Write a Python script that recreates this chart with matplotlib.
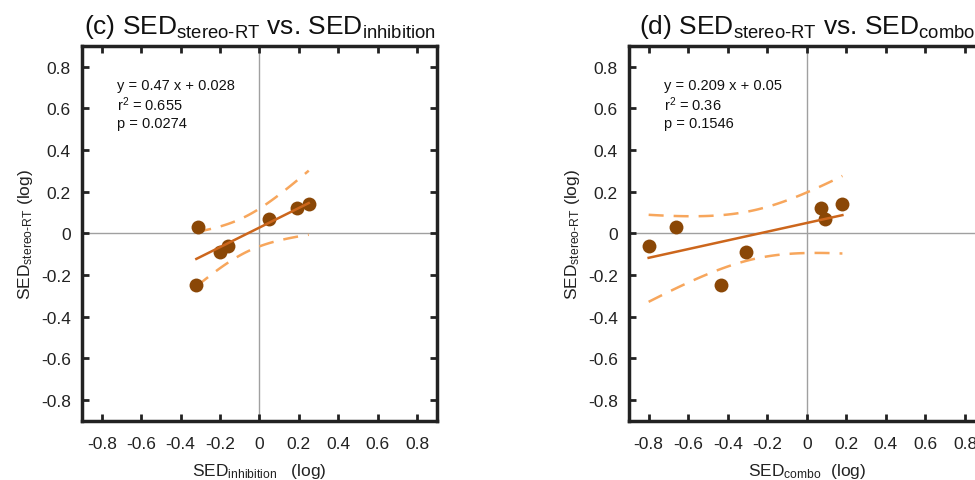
import matplotlib
matplotlib.use("Agg")
import matplotlib.pyplot as plt
import numpy as np

plt.rcParams["font.family"] = ["Liberation Sans", "DejaVu Sans"]
plt.rcParams["mathtext.fontset"] = "custom"
plt.rcParams["mathtext.rm"] = "Liberation Sans"
plt.rcParams["mathtext.it"] = "Liberation Sans"

# Panel (c): SED stereo-RT vs SED inhibition
inhib_x = [-0.31, -0.32, -0.20, -0.16, 0.05, 0.19, 0.25]
inhib_y = [0.03, -0.25, -0.09, -0.06, 0.07, 0.12, 0.14]
inhib_fit = (0.47, 0.028)
inhib_stats = ["y = 0.47 x + 0.028", "r$^2$ = 0.655", "p = 0.0274"]

# Panel (d): SED stereo-RT vs SED combo
combo_x = [-0.66, -0.80, -0.31, -0.435, 0.07, 0.09, 0.18]
combo_y = [0.03, -0.06, -0.09, -0.25, 0.12, 0.07, 0.14]
combo_fit = (0.209, 0.05)
combo_stats = ["y = 0.209 x + 0.05", "r$^2$ = 0.36", "p = 0.1546"]

ticks = [-0.8, -0.6, -0.4, -0.2, 0, 0.2, 0.4, 0.6, 0.8]
tick_labels = ["-0.8", "-0.6", "-0.4", "-0.2", "0", "0.2", "0.4", "0.6", "0.8"]

dot_color = "#8a4706"
fit_color = "#cc661c"
band_color = "#f7a65c"

fig = plt.figure(figsize=(9.75, 4.81), dpi=100)


def draw_panel(ax, xs, ys, fit, stats, title, xlabel):
    xs = np.array(xs)
    ys = np.array(ys)
    ax.axhline(0, color="#a0a0a0", lw=1, zorder=1)
    ax.axvline(0, color="#a0a0a0", lw=1, zorder=1)

    # 95% confidence band of the regression mean
    n = len(xs)
    b, a = np.polyfit(xs, ys, 1)
    resid = ys - (b * xs + a)
    s = np.sqrt(np.sum(resid ** 2) / (n - 2))
    xx = np.linspace(xs.min(), xs.max(), 100)
    se = s * np.sqrt(1 / n + (xx - xs.mean()) ** 2 / np.sum((xs - xs.mean()) ** 2))
    t = 2.5706
    yy = fit[0] * xx + fit[1]
    ax.plot(xx, b * xx + a + t * se, color=band_color, lw=1.8, dashes=(6, 4), zorder=2)
    ax.plot(xx, b * xx + a - t * se, color=band_color, lw=1.8, dashes=(6, 4), zorder=2)

    ax.scatter(xs, ys, s=100, color=dot_color, zorder=3, linewidths=0)
    ax.plot(xx, yy, color=fit_color, lw=1.8, zorder=4)

    ax.set_xlim(-0.9, 0.9)
    ax.set_ylim(-0.9, 0.9)
    ax.set_xticks(ticks)
    ax.set_xticklabels(tick_labels)
    ax.set_yticks(ticks)
    ax.set_yticklabels(tick_labels)
    ax.tick_params(direction="in", length=5, width=2, labelsize=12.5,
                   top=True, right=True, colors="#222222", labelcolor="#222222")
    ax.tick_params(axis="x", pad=11)
    ax.tick_params(axis="y", pad=8)
    for sp in ax.spines.values():
        sp.set_linewidth(2.5)
        sp.set_color("#222222")

    ax.text(0.10, 0.915, "\n".join(stats), transform=ax.transAxes, fontsize=10.5,
            va="top", ha="left", linespacing=1.2, color="#111111")
    ax.set_title(title, fontsize=19, pad=9, color="#111111")
    ax.set_xlabel(xlabel, fontsize=12.5, labelpad=7, color="#222222")
    ax.set_ylabel(r"SED$_{\mathrm{stereo\text{-}RT}}$ (log)", fontsize=12.5, labelpad=4, color="#222222")


ax1 = fig.add_axes([0.0841, 0.1227, 0.364, 0.78])
draw_panel(ax1, inhib_x, inhib_y, inhib_fit, inhib_stats,
           r"(c) SED$_{\mathrm{stereo\text{-}RT}}$ vs. SED$_{\mathrm{inhibition}}$",
           r"SED$_{\mathrm{inhibition}}$   (log)")

ax2 = fig.add_axes([0.645, 0.1227, 0.365, 0.78])
draw_panel(ax2, combo_x, combo_y, combo_fit, combo_stats,
           r"(d) SED$_{\mathrm{stereo\text{-}RT}}$ vs. SED$_{\mathrm{combo}}$",
           r"SED$_{\mathrm{combo}}$  (log)")

fig.savefig("out.png", dpi=100)
